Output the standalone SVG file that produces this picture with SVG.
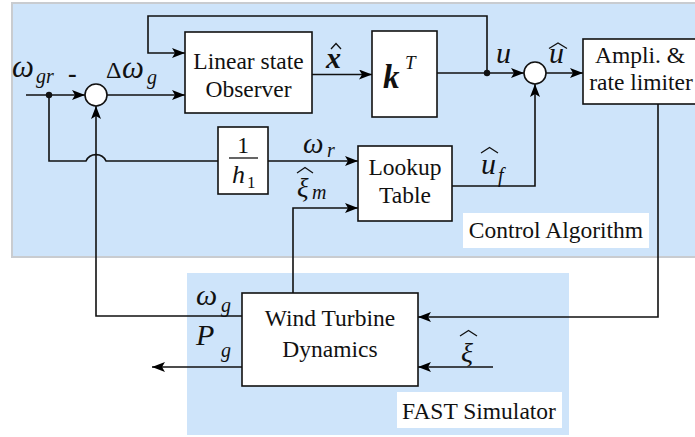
<svg xmlns="http://www.w3.org/2000/svg" width="695" height="437" viewBox="0 0 695 437" font-family="Liberation Serif, DejaVu Serif, serif">
<defs>
<marker id="ar" markerUnits="userSpaceOnUse" markerWidth="13" markerHeight="10" refX="13" refY="5" orient="auto">
<path d="M0,0 L13,5 L0,10 L3,5 z" fill="#000"/>
</marker>
<style>
.blk{fill:#fff;stroke:#111;stroke-width:1.6}
.ln{fill:none;stroke:#111;stroke-width:1.6}
.arr{fill:none;stroke:#111;stroke-width:1.6;marker-end:url(#ar)}
.hat{fill:none;stroke:#111;stroke-width:1.3;stroke-linejoin:miter}
.t{font-size:23.5px;fill:#111;text-anchor:middle}
.m{font-style:italic;fill:#111}
.r{fill:#111}
.sub{font-size:20px}
</style>
</defs>
<rect width="695" height="437" fill="#fff"/>
<g id="panel-control">
<rect x="12" y="3" width="690" height="254" fill="#cee4fa" stroke="#c9ccd0" stroke-width="2"/>
<rect x="463" y="213" width="186" height="35" fill="#fff"/>
<text class="t" x="556" y="238" font-size="22.5">Control Algorithm</text>
</g>
<g id="panel-fast">
<rect x="187" y="273" width="382" height="162" fill="#cee4fa"/>
<rect x="397" y="392" width="165" height="36" fill="#fff"/>
<text class="t" x="479" y="419" font-size="23">FAST Simulator</text>
</g>
<g id="connectors">
<path class="arr" d="M26,95 H85"/>
<circle cx="49" cy="95" r="3.2" fill="#111"/>
<path class="ln" d="M49,95 V161 H86 A11,11 0 0 1 106,161 H218"/>
<path class="arr" d="M107,95 H185"/>
<path class="arr" d="M487,73 V16 H148 V53 H185"/>
<path class="arr" d="M312,74.5 H372"/>
<path class="arr" d="M437,73 H524"/>
<circle cx="487" cy="73" r="3.2" fill="#111"/>
<path class="arr" d="M546,73 H583"/>
<path class="arr" d="M452,186 H535 V84"/>
<path class="arr" d="M268,161 H358"/>
<path class="arr" d="M293,293 V208 H358"/>
<path class="arr" d="M658,104 V317 H418"/>
<path class="arr" d="M493,367 H418"/>
<path class="arr" d="M242,367 H152"/>
<path class="arr" d="M242,316 H96 V106"/>
</g>
<g id="sum1"><circle cx="96" cy="95" r="11" fill="#fff" stroke="#111" stroke-width="1.6"/></g>
<g id="sum2"><circle cx="535" cy="73" r="11" fill="#fff" stroke="#111" stroke-width="1.6"/></g>
<g id="observer">
<rect class="blk" x="185" y="32" width="127" height="81"/>
<text class="t" x="248.5" y="69">Linear state</text>
<text class="t" x="248.5" y="97">Observer</text>
</g>
<g id="gain">
<rect class="blk" x="372" y="31" width="65" height="86"/>
<text class="m" x="383" y="88" font-size="33" font-weight="bold">k</text>
<text class="m" x="405" y="69" font-size="19">T</text>
</g>
<g id="limiter">
<rect class="blk" x="583" y="39" width="120" height="65"/>
<text class="t" x="640" y="63">Ampli. &amp;</text>
<text class="t" x="641" y="90">rate limiter</text>
</g>
<g id="inv-h1">
<rect class="blk" x="218" y="127" width="50" height="67"/>
<text class="t" x="243" y="153" font-size="25">1</text>
<line x1="229" y1="158" x2="258" y2="158" stroke="#111" stroke-width="1.3"/>
<text class="m" x="232" y="183" font-size="26">h</text>
<text class="r" x="247" y="188" font-size="17">1</text>
</g>
<g id="lookup">
<rect class="blk" x="358" y="146" width="94" height="75"/>
<text class="t" x="405" y="175">Lookup</text>
<text class="t" x="405" y="203">Table</text>
</g>
<g id="turbine">
<rect class="blk" x="242" y="293" width="176" height="93"/>
<text class="t" x="330" y="326" font-size="24">Wind Turbine</text>
<text class="t" x="330" y="357" font-size="24">Dynamics</text>
</g>
<g id="labels">
<text class="m" x="12" y="77" font-size="31">ω</text>
<text class="m sub" x="36" y="83">gr</text>
<text class="r" x="68" y="82" font-size="26" font-weight="bold">-</text>
<text class="r" x="106" y="78" font-size="24">Δ</text>
<text class="m" x="122" y="78" font-size="31">ω</text>
<text class="m sub" x="147" y="84">g</text>
<text class="m" x="326" y="68" font-size="30" font-weight="bold">x</text>
<path class="hat" d="M331,49 L336,43.5 L341,49"/>
<text class="m" x="496" y="63" font-size="30">u</text>
<text class="m" x="549" y="63" font-size="30">u</text>
<path class="hat" d="M549,48.5 L558,43 L567,48.5"/>
<text class="m" x="303" y="153" font-size="29">ω</text>
<text class="m sub" x="327" y="157">r</text>
<text class="m" x="297" y="197" font-size="27">ξ</text>
<path class="hat" d="M297,173 L305,167.5 L313,173"/>
<text class="m sub" x="312" y="199">m</text>
<text class="m" x="481" y="174" font-size="30">u</text>
<path class="hat" d="M481,153 L489.5,147.5 L498,153"/>
<text class="m sub" x="498" y="182">f</text>
<text class="m" x="196" y="305" font-size="30">ω</text>
<text class="m sub" x="221" y="312">g</text>
<text class="m" x="196" y="345" font-size="30">P</text>
<text class="m sub" x="221" y="357">g</text>
<text class="m" x="461" y="362" font-size="28">ξ</text>
<path class="hat" d="M460,336 L468.5,330.5 L477,336"/>
</g>
</svg>
